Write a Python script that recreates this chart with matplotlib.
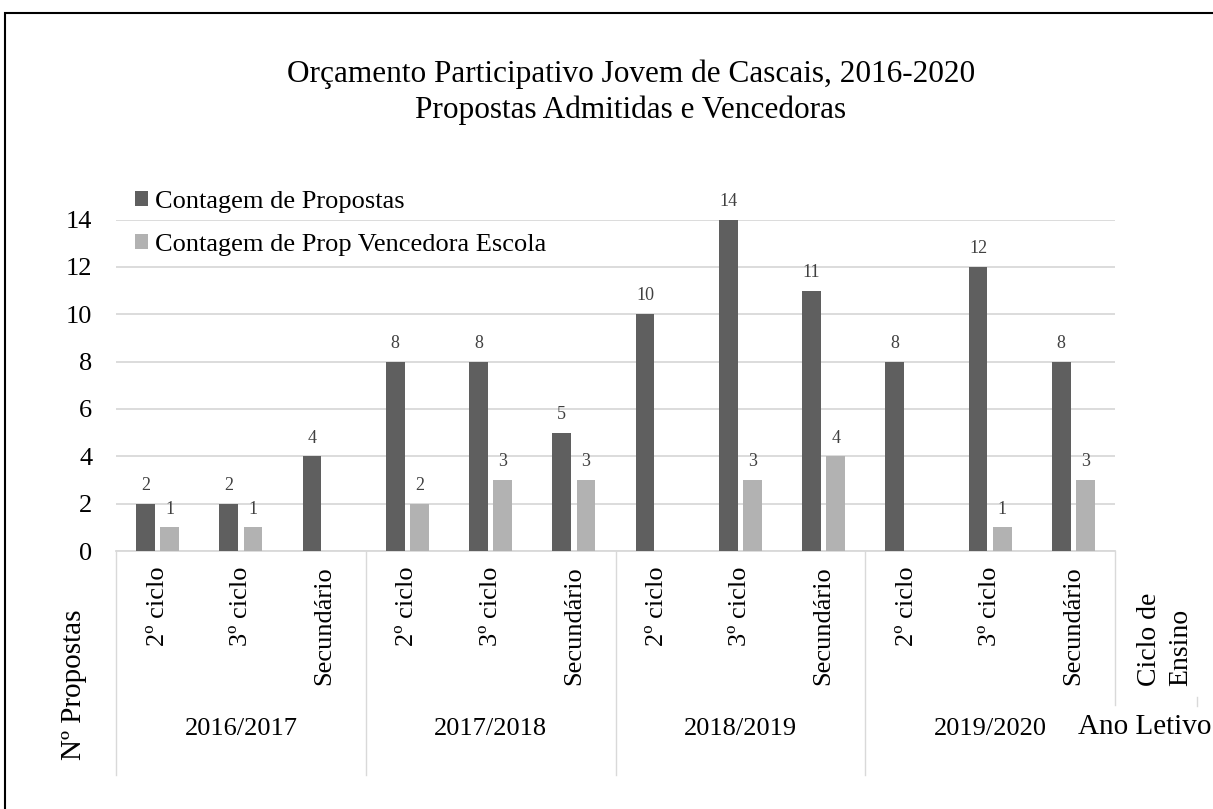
import matplotlib
matplotlib.use("Agg")
import matplotlib.pyplot as plt
import matplotlib.transforms as mtransforms
from matplotlib.patches import Rectangle
import numpy as np

title = "Orçamento Participativo Jovem de Cascais, 2016-2020\nPropostas Admitidas e Vencedoras"
ciclos = ["2º ciclo", "3º ciclo", "Secundário"] * 4
anos = ["2016/2017", "2017/2018", "2018/2019", "2019/2020"]
propostas = [2, 2, 4, 8, 8, 5, 10, 14, 11, 8, 12, 8]
vencedoras = [1, 1, 0, 2, 3, 3, 0, 3, 4, 0, 1, 3]
serie_labels = ["Contagem de Propostas", "Contagem de Prop Vencedora Escola"]
y_ticks = [0, 2, 4, 6, 8, 10, 12, 14]

DARK = "#5f5f5f"
LIGHT = "#b2b2b2"
GRID = "#d9d9d9"

plt.rcParams["font.family"] = ["Liberation Serif", "DejaVu Serif"]

W, H = 1213, 809
fig = plt.figure(figsize=(W / 100, H / 100), dpi=100)
ax = fig.add_axes([116 / W, 1 - 551 / H, 999 / W, 331.5 / H])

x = np.arange(len(propostas))
bw = 0.225
off = 0.145
b1 = ax.bar(x - off, propostas, bw, color=DARK, label=serie_labels[0], zorder=3)
b2 = ax.bar(x + off, vencedoras, bw, color=LIGHT, label=serie_labels[1], zorder=3)

for bars, vals in ((b1, propostas), (b2, vencedoras)):
    for rect, v in zip(bars, vals):
        if v == 0:
            continue
        ax.annotate(str(v), (rect.get_x() + rect.get_width() / 2, v),
                    xytext=(0, 7), textcoords="offset points",
                    ha="center", va="bottom", fontsize=13, color="#404040",
                    clip_on=False)

ax.set_xlim(-0.5, len(propostas) - 0.5)
ax.set_ylim(0, 14)
ax.set_yticks(y_ticks)
ax.tick_params(axis="y", length=0, pad=17, labelsize=19)
ax.set_xticks([])
ax.grid(axis="y", color=GRID, linewidth=1.3, zorder=0)
for s in ("top", "right", "left"):
    ax.spines[s].set_visible(False)
ax.spines["bottom"].set_color(GRID)
ax.spines["bottom"].set_linewidth(1.3)

# multi-level category axis
blend = mtransforms.blended_transform_factory(ax.transData, fig.transFigure)
y_axis = 1 - 551 / H
for i, lab in enumerate(ciclos):
    ax.text(i, 1 - 566 / H, lab, transform=blend, rotation=90, ha="center",
            va="top", fontsize=19)
for g, ano in enumerate(anos):
    ax.text(3 * g + 1, 1 - 729 / H, ano, transform=blend, ha="center",
            va="center", fontsize=19)
for xs in (-0.5, 2.5, 5.5, 8.5):
    ax.plot([xs, xs], [y_axis, 1 - 775 / H], transform=blend, color=GRID,
            linewidth=1.0, clip_on=False)
ax.plot([11.5, 11.5], [y_axis, 1 - 705 / H], transform=blend, color=GRID,
        linewidth=1.0, clip_on=False)
fig.add_artist(plt.Line2D([1197 / W, 1197 / W], [1 - 697 / H, 1 - 706 / H],
                          color=GRID, linewidth=1.0))

fig.text(1165 / W, 1 - 686 / H, "Ciclo de\nEnsino", rotation=90, ha="center",
         va="bottom", fontsize=20, multialignment="left", linespacing=1.3)
fig.text(1145 / W, 1 - 727 / H, "Ano Letivo", ha="center", va="center",
         fontsize=21)
fig.text(74 / W, 1 - 685 / H, "Nº Propostas", rotation=90, ha="center",
         va="center", fontsize=21)

fig.text(631 / W, 1 - 92 / H, title, ha="center", va="center", fontsize=22.5,
         linespacing=1.3)

fig.legend(handles=[b1, b2], labels=serie_labels, loc="upper left",
           bbox_to_anchor=(135 / W, 1 - 191 / H), frameon=False, fontsize=19,
           handlelength=0.5, handleheight=0.5, handletextpad=0.25,
           labelspacing=0.8, borderpad=0, borderaxespad=0)

fig.add_artist(Rectangle((5 / W, -0.1), 1.2, 1 - 13 / H + 0.1,
                         transform=fig.transFigure, fill=False,
                         edgecolor="black", linewidth=1.5))

fig.savefig("out.png", dpi=100)
